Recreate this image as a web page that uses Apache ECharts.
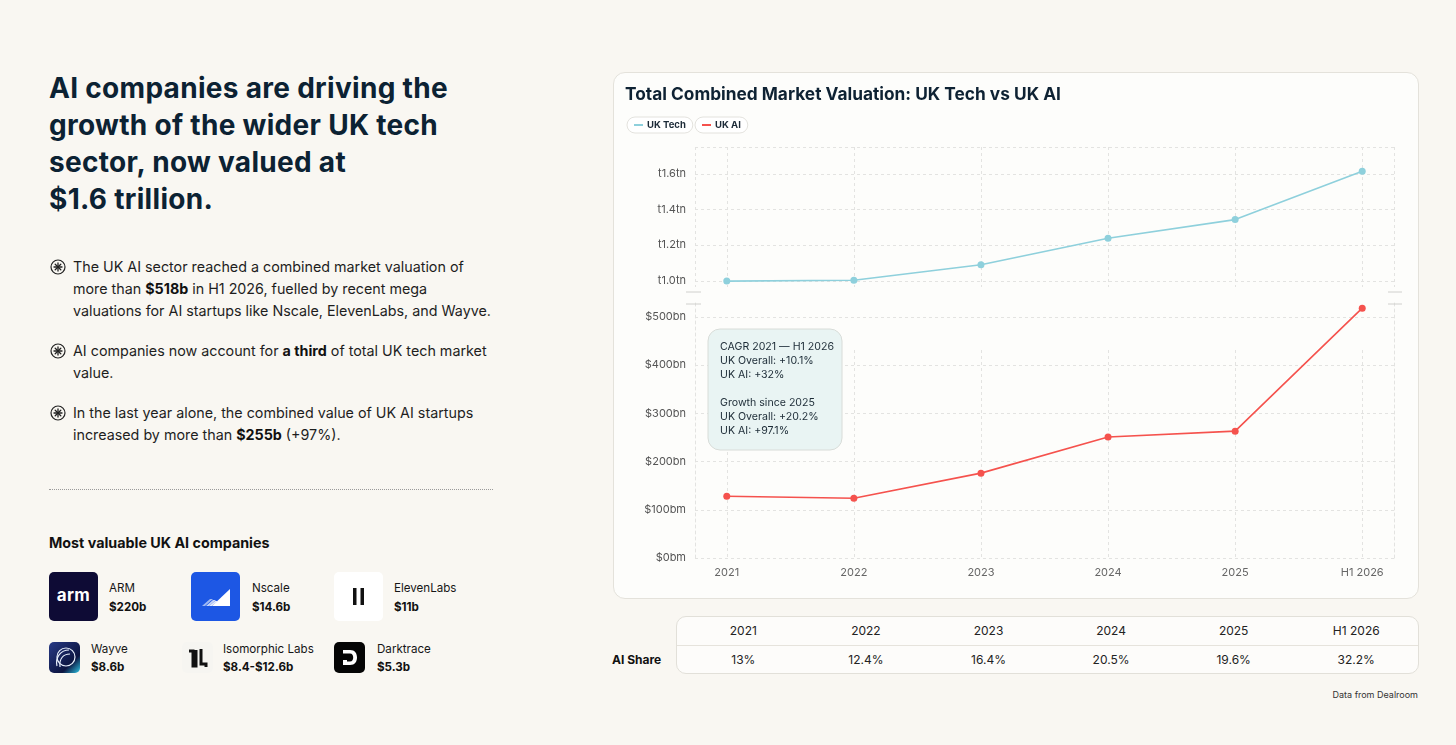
<!DOCTYPE html>
<html>
<head>
<meta charset="utf-8">
<title>UK Tech vs UK AI</title>
<script src="https://cdn.jsdelivr.net/npm/echarts@6.0.0/dist/echarts.min.js"></script>
<style>
  html, body { margin: 0; padding: 0; }
  body {
    width: 1456px; height: 745px; position: relative; overflow: hidden;
    background: #f9f7f2; color: #1b1b1b;
    font-family: Inter, "Open Sans", sans-serif;
  }
  .abs { position: absolute; }
  #heading {
    left: 49px; top: 70px; font-size: 28px; line-height: 37px; font-weight: 700;
    color: #0c2233; white-space: nowrap; letter-spacing: 0.3px;
  }
  #bullets { left: 50px; top: 256px; font-size: 14.3px; line-height: 22px; white-space: nowrap; color: #1e1e1e; }
  .bullet { position: relative; padding-left: 23px; margin-bottom: 18px; }
  .bullet svg { position: absolute; left: 0; top: 3px; }
  .bullet b { font-weight: 700; color: #111; }
  #rule { left: 49px; top: 489px; width: 444px; border-top: 1px dotted #9a9a9a; }
  #mvTitle { left: 49px; top: 534px; font-size: 14.3px; font-weight: 700; color: #111; }
  .co-name { font-size: 11.6px; line-height: 14px; color: #161616; white-space: nowrap; }
  .co-val { font-size: 11.6px; line-height: 14px; font-weight: 700; color: #111; white-space: nowrap; }
  .logo { position: absolute; border-radius: 5px; overflow: hidden; }
  #card {
    left: 613px; top: 72px; width: 804px; height: 525px;
    border: 1px solid #e4e2db; border-radius: 12px; background: #fdfdfb;
  }
  #chart { width: 804px; height: 525px; }
  #tbl {
    left: 676px; top: 616px; width: 741px; height: 56px;
    border: 1px solid #e2e0d9; border-radius: 10px; background: #fdfcfa;
    font-size: 12px; color: #222;
  }
  .row { display: flex; padding-left: 5px; }
  .row div { width: 122.6px; text-align: center; }
  #shareLbl { left: 612px; top: 652px; font-size: 12px; font-weight: 700; color: #111; }
  #src { right: 38px; top: 689px; font-size: 9px; color: #333; }
</style>
</head>
<body>

<div id="heading" class="abs">AI companies are driving the<br>growth of the wider UK tech<br>sector, now valued at<br>$1.6 trillion.</div>

<div id="bullets" class="abs"></div>
<div id="rule" class="abs"></div>

<div id="mvTitle" class="abs">Most valuable UK AI companies</div>
<div id="companies"></div>

<div id="card" class="abs"><div id="chart"></div></div>

<div id="shareLbl" class="abs">AI Share</div>
<div id="tbl" class="abs"></div>
<div id="src" class="abs">Data from Dealroom</div>

<script>
// 数据
var years = ['2021', '2022', '2023', '2024', '2025', 'H1 2026'];
var ukTech = [0.998, 1.003, 1.09, 1.238, 1.343, 1.614];   // tn
var ukAI = [128, 124, 176, 251, 263, 518];                // bn
var aiShare = ['13%', '12.4%', '16.4%', '20.5%', '19.6%', '32.2%'];

var techTicks = [1.0, 1.2, 1.4, 1.6];
var techTickLabels = ['t1.0tn', 't1.2tn', 't1.4tn', 't1.6tn'];
var aiTicks = [0, 100, 200, 300, 400, 500];
var aiTickLabels = ['$0bm', '$100bm', '$200bn', '$300bn', '$400bn', '$500bn'];

var noteLines = ['CAGR 2021 \u2014 H1 2026', 'UK Overall: +10.1%', 'UK AI: +32%', '',
                 'Growth since 2025', 'UK Overall: +20.2%', 'UK AI: +97.1%'];

var bulletTexts = [
  'The UK AI sector reached a combined market valuation of<br>more than <b>$518b</b> in H1 2026, fuelled by recent mega<br>valuations for AI startups like Nscale, ElevenLabs, and Wayve.',
  'AI companies now account for <b>a third</b> of total UK tech market<br>value.',
  'In the last year alone, the combined value of UK AI startups<br>increased by more than <b>$255b</b> (+97%).'
];

var companyNames = ['ARM', 'Nscale', 'ElevenLabs', 'Wayve', 'Isomorphic Labs', 'Darktrace'];
var companyValues = ['$220b', '$14.6b', '$11b', '$8.6b', '$8.4-$12.6b', '$5.3b'];

// 左侧文字
var icon = '<svg width="16" height="16" viewBox="0 0 16 16"><circle cx="8" cy="8" r="7" fill="none" stroke="#222" stroke-width="1.2"/>' +
  '<g stroke="#222" stroke-width="1.3" stroke-linecap="round"><line x1="8" y1="4" x2="8" y2="12"/><line x1="4" y1="8" x2="12" y2="8"/>' +
  '<line x1="5.2" y1="5.2" x2="10.8" y2="10.8"/><line x1="10.8" y1="5.2" x2="5.2" y2="10.8"/></g></svg>';
document.getElementById('bullets').innerHTML = bulletTexts.map(function (t) {
  return '<div class="bullet">' + icon + t + '</div>';
}).join('');

// logos (rough drawings)
var logos = [
  '<div style="width:49px;height:49px;background:#0e0b35;color:#fff;font:700 17px Inter,sans-serif;line-height:47px;text-align:center;letter-spacing:0.3px">arm</div>',
  '<svg width="49" height="49"><rect width="49" height="49" fill="#1d57e4"/><polygon points="21,34 39,34 39,17" fill="#fff"/>' +
    '<polygon points="11,34 14,34 22,27 19,27" fill="#9fb8f3"/><polygon points="15,34 18,34 25,28 22,28" fill="#c7d6f8"/><polygon points="18,34 21,34 27,29 24,29" fill="#e3eafb"/></svg>',
  '<svg width="49" height="49"><rect width="49" height="49" fill="#fff"/><rect x="19" y="16" width="3.5" height="17" fill="#111"/><rect x="26.5" y="16" width="3.5" height="17" fill="#111"/></svg>',
  '<svg width="31" height="31"><defs><linearGradient id="wg" x1="0" y1="0" x2="1" y2="1"><stop offset="0" stop-color="#283a86"/><stop offset="0.7" stop-color="#0c1541"/><stop offset="1" stop-color="#2ec7e6"/></linearGradient></defs>' +
    '<rect width="31" height="31" fill="url(#wg)"/><g fill="none" stroke="#e6eefb" stroke-width="1.2"><circle cx="17" cy="15" r="9"/><path d="M8 24 C6 15 12 8 20 8"/><path d="M11 25 C10 17 14 12 21 12"/></g></svg>',
  '<svg width="31" height="31"><rect width="31" height="31" fill="#f6f5f1"/><path d="M7 9 L11 9 L11 24 L14 24 L14 8" fill="none" stroke="#111" stroke-width="3"/><path d="M19 7 L19 22 L24 22 L24 25" fill="none" stroke="#111" stroke-width="3"/></svg>',
  '<svg width="31" height="31"><rect width="31" height="31" fill="#050505"/><path d="M9 8 L16 8 C21 8 23 11.5 23 15.5 C23 19.5 21 23 16 23 L9 23 L9 18 L13 18 L13 19.5 L16 19.5 C18.3 19.5 19.2 17.5 19.2 15.5 C19.2 13.5 18.3 11.5 16 11.5 L9 11.5 Z" fill="#fff"/></svg>'
];
var logoBox = [[49, 572, 49], [191, 572, 49], [334, 572, 49], [49, 642, 31], [182, 642, 31], [334, 642, 31]];
var textPos = [[109, 581, 600], [252, 581, 600], [394, 581, 600], [91, 642, 660], [223, 642, 660], [377, 642, 660]];
var html = '';
companyNames.forEach(function (n, i) {
  var b = logoBox[i], p = textPos[i];
  html += '<div class="logo" style="left:' + b[0] + 'px;top:' + b[1] + 'px;width:' + b[2] + 'px;height:' + b[2] + 'px">' + logos[i] + '</div>';
  html += '<div class="abs co-name" style="left:' + p[0] + 'px;top:' + p[1] + 'px">' + n + '</div>';
  html += '<div class="abs co-val" style="left:' + p[0] + 'px;top:' + p[2] + 'px">' + companyValues[i] + '</div>';
});
document.getElementById('companies').innerHTML = html;

// 表格
document.getElementById('tbl').innerHTML =
  '<div class="row" style="height:28px;line-height:28px;border-bottom:1px solid #e6e3dc">' +
  years.map(function (y) { return '<div>' + y + '</div>'; }).join('') + '</div>' +
  '<div class="row" style="height:27px;line-height:27px">' +
  aiShare.map(function (s) { return '<div>' + s + '</div>'; }).join('') + '</div>';

// 图表
function tickFormatter(ticks, labels) {
  return function (v) {
    for (var i = 0; i < ticks.length; i++) {
      if (Math.abs(v - ticks[i]) < 1e-6) return labels[i];
    }
    return '';
  };
}
function yearFormatter(v) {
  var i = Math.round(v);
  return (Math.abs(v - i) < 1e-6 && years[i]) ? years[i] : '';
}
function toPoints(vals) {
  return vals.map(function (v, i) { return [i, v]; });
}

var gridColor = '#e3e3e1';
var dashed = { show: true, lineStyle: { color: gridColor, type: [3, 3], width: 1 } };
var techColor = '#8ed0dc';
var aiColor = '#f5524d';

var myChart = echarts.init(document.getElementById('chart'), null, { renderer: 'canvas' });
var option = {
  backgroundColor: 'transparent',
  textStyle: { fontFamily: 'Inter, sans-serif' },
  title: {
    text: 'Total Combined Market Valuation: UK Tech vs UK AI',
    left: 11, top: 13, padding: 0,
    textStyle: { fontSize: 17.3, fontWeight: 700, color: '#0e2233', fontFamily: 'Inter, sans-serif' }
  },
  legend: [
    { data: ['UK Tech'], left: 13, top: 44 },
    { data: ['UK AI'], left: 81, top: 44 }
  ].map(function (l) {
    return Object.assign(l, {
      icon: 'rect', itemWidth: 9, itemHeight: 2, padding: [3, 7, 3, 7],
      borderColor: '#e3e2dd', borderWidth: 1, borderRadius: 9, backgroundColor: '#fff',
      selectedMode: false,
      textStyle: { fontSize: 9.5, fontWeight: 700, color: '#1d2b38', padding: [0, 0, 0, -1] }
    });
  }),
  grid: [
    { left: 81, right: 24, top: 74, height: 140 },
    { left: 81, right: 24, top: 227, height: 258 },
    { left: 81, right: 24, top: 277, height: 208 }
  ],
  xAxis: [
    { type: 'value', gridIndex: 0, min: -0.25, max: 5.25,
      axisLine: { show: false }, axisTick: { show: false }, axisLabel: { show: false },
      splitLine: dashed },
    { type: 'value', gridIndex: 1, min: -0.25, max: 5.25,
      axisLine: { show: false, onZero: false }, axisTick: { show: false },
      axisLabel: { formatter: yearFormatter, fontSize: 11, color: '#666', margin: 9 },
      splitLine: { show: false } },
    { type: 'value', gridIndex: 2, min: -0.25, max: 5.25,
      axisLine: { show: false }, axisTick: { show: false }, axisLabel: { show: false },
      splitLine: Object.assign({ showMinLine: false, showMaxLine: false }, dashed) }
  ],
  yAxis: [
    { type: 'value', gridIndex: 0, min: 0.965, max: 1.75,
      axisLine: { show: false }, axisTick: { show: false },
      axisLabel: { formatter: tickFormatter(techTicks, techTickLabels), fontSize: 11, color: '#555', margin: 9 },
      splitLine: Object.assign({ showMinLine: false }, dashed) },
    { type: 'value', gridIndex: 1, min: 0, max: 535,
      axisLine: { show: true, onZero: false, lineStyle: { color: gridColor, type: [3, 3] } },
      axisTick: { show: false },
      axisLabel: { formatter: tickFormatter(aiTicks, aiTickLabels), fontSize: 11, color: '#555', margin: 9 },
      splitLine: Object.assign({ showMaxLine: false }, dashed) },
    { type: 'value', gridIndex: 1, position: 'right', min: 0, max: 535,
      axisLine: { show: true, onZero: false, lineStyle: { color: gridColor, type: [3, 3] } },
      axisTick: { show: false }, axisLabel: { show: false }, splitLine: { show: false } },
    { type: 'value', gridIndex: 2, show: false, min: 0, max: 1, splitLine: { show: false } }
  ],
  series: [
    { name: 'UK Tech', type: 'line', xAxisIndex: 0, yAxisIndex: 0, data: toPoints(ukTech),
      symbol: 'circle', symbolSize: 7, lineStyle: { width: 1.6, color: techColor },
      itemStyle: { color: techColor }, color: techColor, z: 5 },
    { name: 'UK AI', type: 'line', xAxisIndex: 1, yAxisIndex: 1, data: toPoints(ukAI),
      symbol: 'circle', symbolSize: 7, lineStyle: { width: 1.6, color: aiColor },
      itemStyle: { color: aiColor }, color: aiColor, z: 5 }
  ],
  graphic: [
    { type: 'rect', z: 100, shape: { x: 94, y: 256, width: 134, height: 121, r: 12 },
      style: { fill: '#e9f4f3', stroke: '#d8dcd8', lineWidth: 1 } },
    { type: 'text', z: 101, x: 106, y: 267,
      style: { text: noteLines.join('\n'), fontSize: 10.6, lineHeight: 14, fill: '#1c2b36', fontFamily: 'Inter, sans-serif' } },
    // 断轴标记
    { type: 'line', z: 50, shape: { x1: 72, y1: 219, x2: 87, y2: 219 }, style: { stroke: '#d0d0cd', lineWidth: 1 } },
    { type: 'line', z: 50, shape: { x1: 72, y1: 231, x2: 87, y2: 231 }, style: { stroke: '#d0d0cd', lineWidth: 1 } },
    { type: 'line', z: 50, shape: { x1: 774, y1: 219, x2: 788, y2: 219 }, style: { stroke: '#d0d0cd', lineWidth: 1 } },
    { type: 'line', z: 50, shape: { x1: 774, y1: 231, x2: 788, y2: 231 }, style: { stroke: '#d0d0cd', lineWidth: 1 } }
  ]
};
myChart.setOption(option);
</script>
</body>
</html>
